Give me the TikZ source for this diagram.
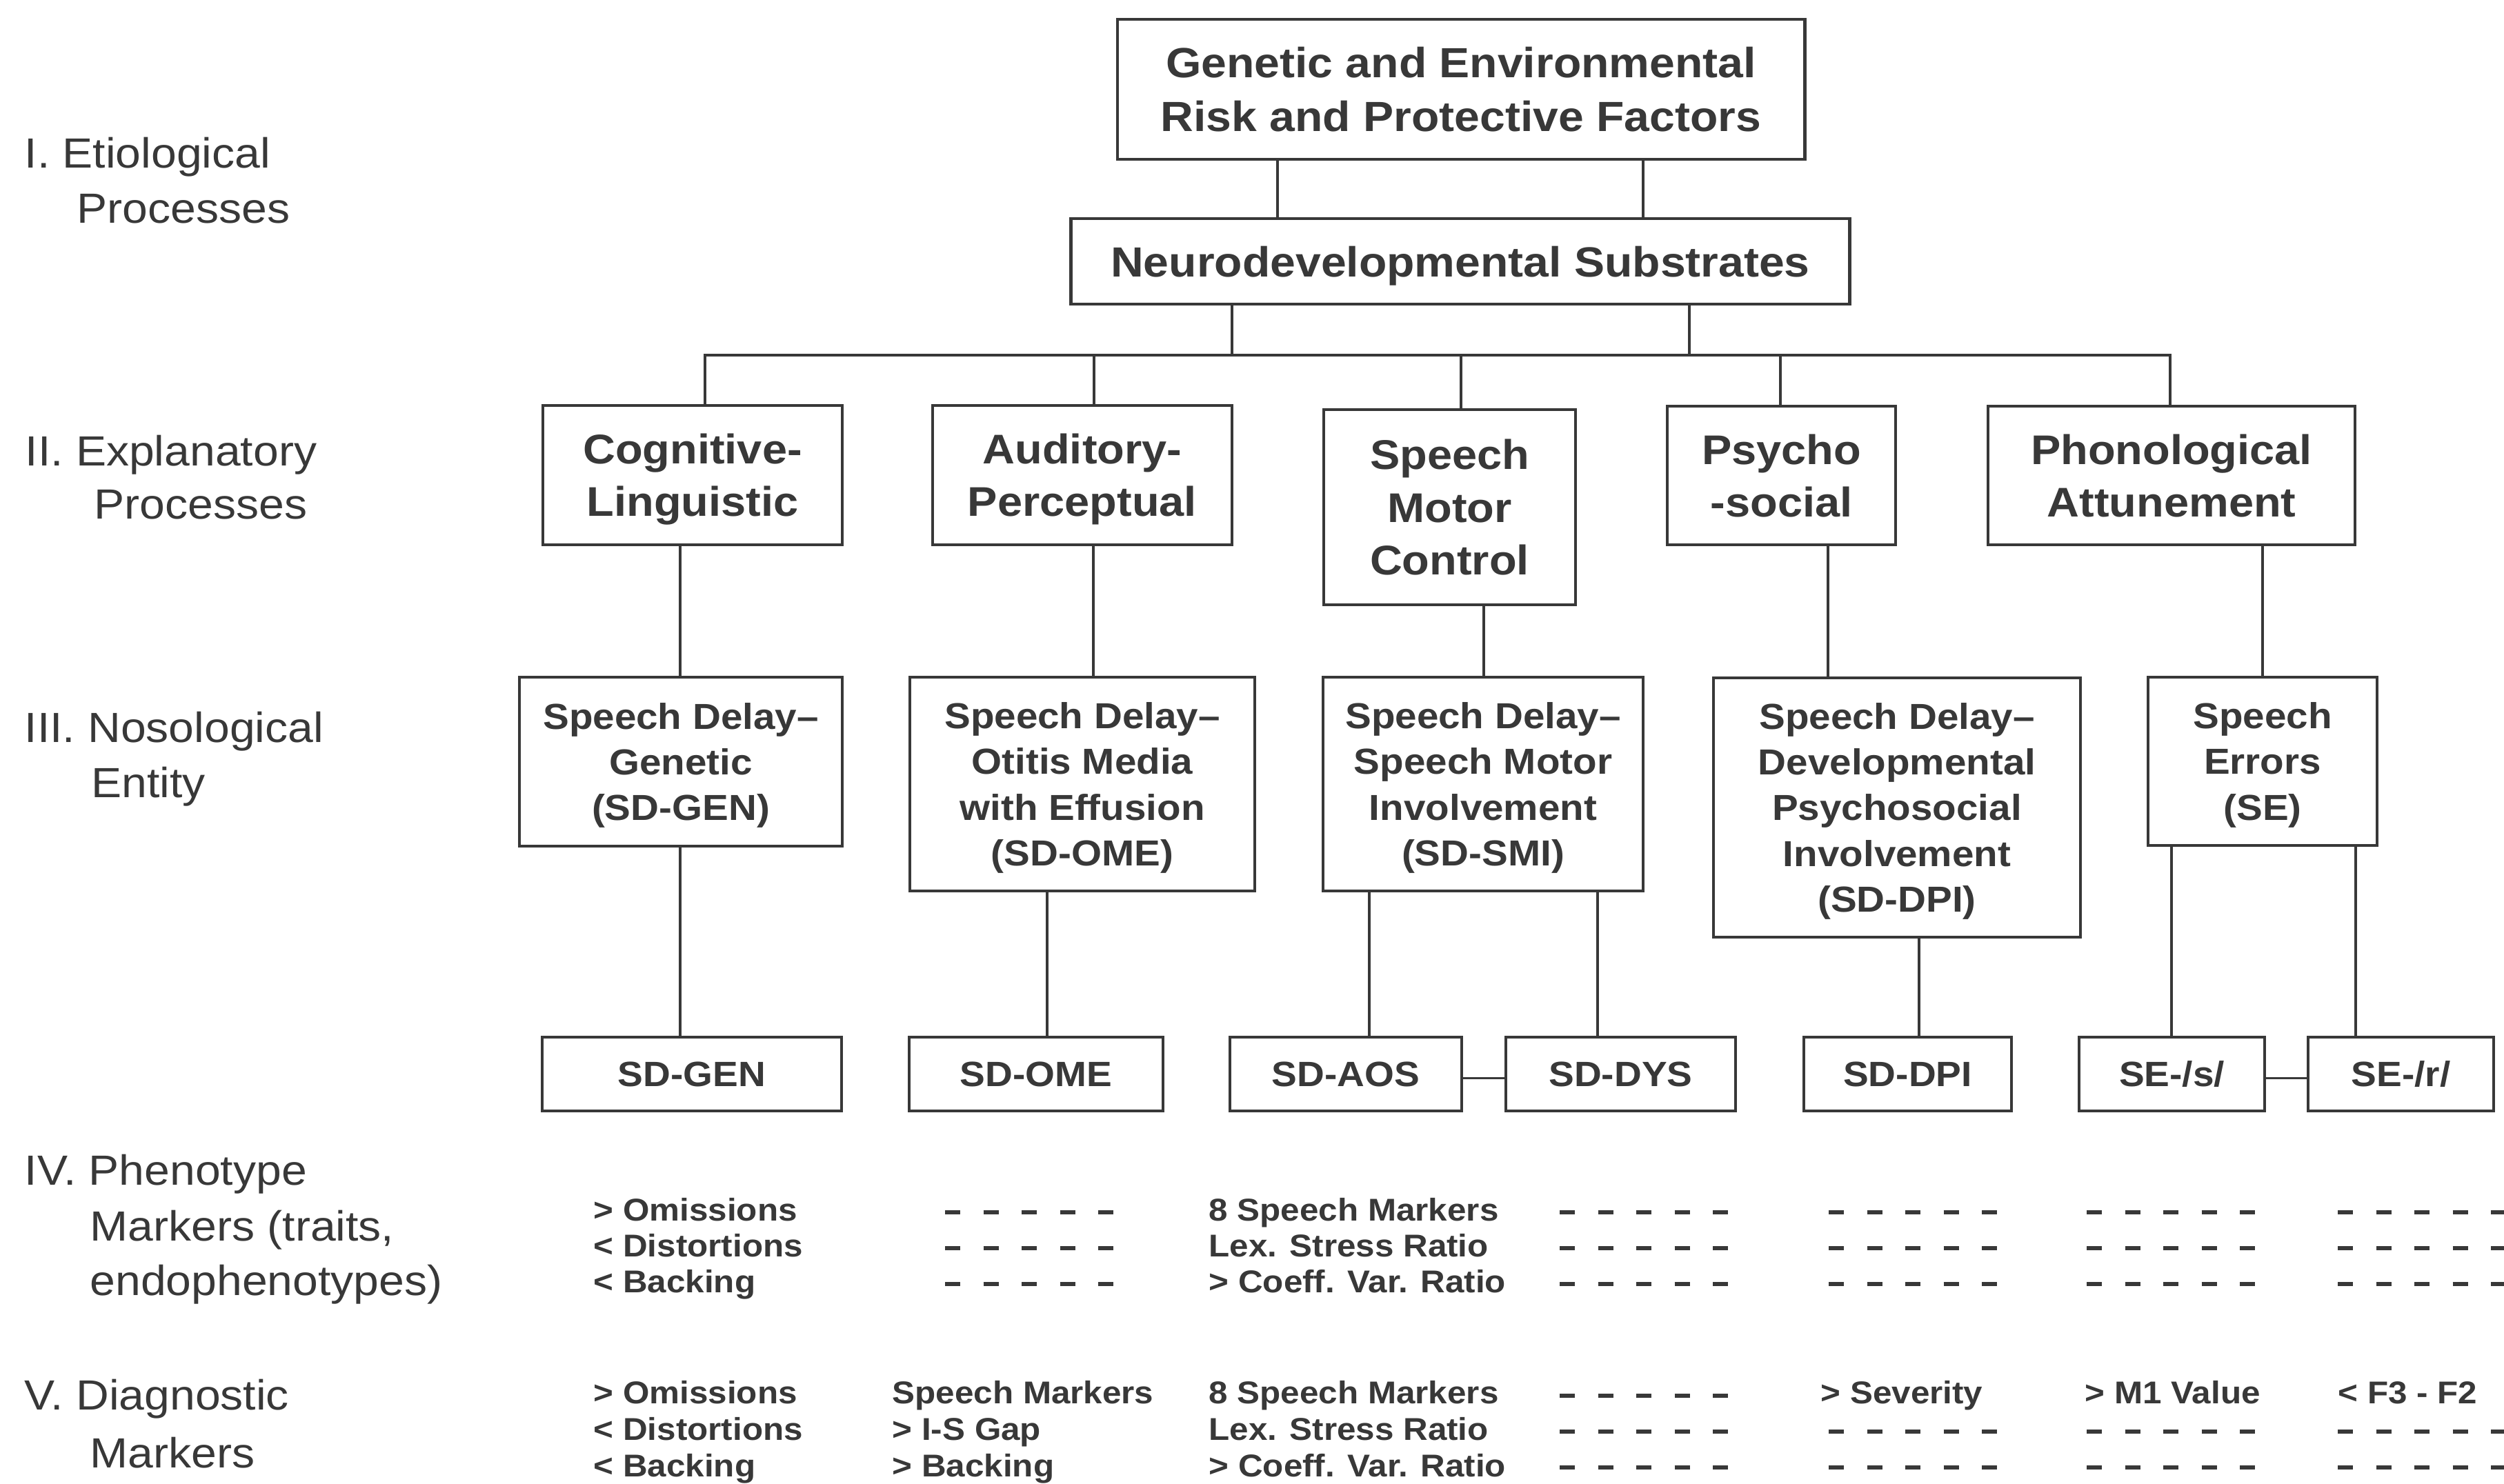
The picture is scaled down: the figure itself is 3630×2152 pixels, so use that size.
\documentclass[tikz,border=0pt]{standalone}
\usepackage{fontspec}
\setmainfont{Liberation Sans}[FakeStretch=1.08]
\definecolor{ink}{HTML}{383838}
\tikzset{
  box/.style={draw=ink, line width=1.25pt, inner sep=0pt, align=center, text=ink, text depth=0pt},
  conn/.style={draw=ink, line width=1pt},
  dashrow/.style={draw=ink, line width=0.055cm, dash pattern=on 0.22cm off 0.335cm},
  lab/.style={anchor=base west, inner sep=0pt, text=ink, font=\fontsize{17.4}{22}\selectfont},
  mk/.style={anchor=base west, inner sep=0pt, text=ink, font=\fontsize{13}{15}\selectfont\bfseries},
  fA/.style={font=\fontsize{17.4}{22.2}\selectfont\bfseries},
  fB/.style={font=\fontsize{17.1}{21.7}\selectfont\bfseries},
  fC/.style={font=\fontsize{14.9}{18.8}\selectfont\bfseries},
  fD/.style={font=\fontsize{14.5}{17}\selectfont\bfseries},
}
\begin{document}
\begin{tikzpicture}[x=0.01cm, y=-0.01cm]
\useasboundingbox[fill=white] (0,0) rectangle (3630,2152);

% ---- Level I
\node[box, fA, minimum width=9.96cm, minimum height=2.03cm] (top) at (2118,129.5) {Genetic and Environmental\\Risk and Protective Factors};
\node[box, fA, minimum width=11.28cm, minimum height=1.24cm] (neuro) at (2117,379) {Neurodevelopmental Substrates};

% ---- Level II
\node[box, fB, minimum width=4.34cm, minimum height=2.02cm] (cog) at (1004,689) {Cognitive-\\Linguistic};
\node[box, fB, minimum width=4.34cm, minimum height=2.02cm] (aud) at (1569,689) {Auditory-\\Perceptual};
\node[box, fB, minimum width=3.65cm, minimum height=2.83cm] (smc) at (2101.5,735.5) {Speech\\Motor\\Control};
\node[box, fB, minimum width=3.31cm, minimum height=2.01cm] (psy) at (2582.5,689.5) {Psycho\\-social};
\node[box, fB, minimum width=5.32cm, minimum height=2.01cm] (pho) at (3148,689.5) {Phonological\\Attunement};

% ---- Level III
\node[box, fC, minimum width=4.68cm, minimum height=2.45cm] (gen) at (987,1104.5) {Speech Delay–\\Genetic\\(SD-GEN)};
\node[box, fC, minimum width=5.00cm, minimum height=3.10cm] (ome) at (1569,1137) {Speech Delay–\\Otitis Media\\with Effusion\\(SD-OME)};
\node[box, fC, minimum width=4.64cm, minimum height=3.10cm] (smi) at (2150,1137) {Speech Delay–\\Speech Motor\\Involvement\\(SD-SMI)};
\node[box, fC, minimum width=5.32cm, minimum height=3.76cm] (dpi) at (2750,1171) {Speech Delay–\\Developmental\\Psychosocial\\Involvement\\(SD-DPI)};
\node[box, fC, minimum width=3.32cm, minimum height=2.44cm] (se) at (3280,1104) {Speech\\Errors\\(SE)};

% ---- subtype boxes
\node[box, fD, minimum width=4.34cm, minimum height=1.07cm] (bgen) at (1003,1557.5) {SD-GEN};
\node[box, fD, minimum width=3.68cm, minimum height=1.07cm] (bome) at (1502,1557.5) {SD-OME};
\node[box, fD, minimum width=3.36cm, minimum height=1.07cm] (aos) at (1951,1557.5) {SD-AOS};
\node[box, fD, minimum width=3.33cm, minimum height=1.07cm] (dys) at (2349.5,1557.5) {SD-DYS};
\node[box, fD, minimum width=3.01cm, minimum height=1.07cm] (bdpi) at (2765.5,1557.5) {SD-DPI};
\node[box, fD, minimum width=2.69cm, minimum height=1.07cm] (ses) at (3148.5,1557.5) {SE-/s/};
\node[box, fD, minimum width=2.69cm, minimum height=1.07cm] (ser) at (3480.5,1557.5) {SE-/r/};

% ---- connector x positions
\coordinate (k1) at (1852,0);
\coordinate (k2) at (2382,0);
\coordinate (n1) at (1786,515);
\coordinate (n2) at (2449,515);
\coordinate (b1) at (1022,515);
\coordinate (b2) at (1586,515);
\coordinate (b3) at (2118,515);
\coordinate (b4) at (2581,515);
\coordinate (b5) at (3146,515);
\coordinate (c1) at (986,0);
\coordinate (c2) at (1585,0);
\coordinate (c3) at (2151,0);
\coordinate (c4) at (2650,0);
\coordinate (c5) at (3280,0);
\coordinate (d2) at (1518,0);
\coordinate (d3a) at (1985,0);
\coordinate (d3b) at (2316,0);
\coordinate (d4) at (2782,0);
\coordinate (d5a) at (3148,0);
\coordinate (d5b) at (3415,0);

% ---- connectors
\draw[conn] (top.south -| k1) -- (neuro.north -| k1);
\draw[conn] (top.south -| k2) -- (neuro.north -| k2);
\draw[conn] (neuro.south -| n1) -- (n1);
\draw[conn] (neuro.south -| n2) -- (n2);
\draw[conn] (cog.north -| b1) -- (b1) -- (b5) -- (pho.north -| b5);
\draw[conn] (b2) -- (aud.north -| b2);
\draw[conn] (b3) -- (smc.north -| b3);
\draw[conn] (b4) -- (psy.north -| b4);

\draw[conn] (cog.south -| c1) -- (gen.north -| c1);
\draw[conn] (aud.south -| c2) -- (ome.north -| c2);
\draw[conn] (smc.south -| c3) -- (smi.north -| c3);
\draw[conn] (psy.south -| c4) -- (dpi.north -| c4);
\draw[conn] (pho.south -| c5) -- (se.north -| c5);

\draw[conn] (gen.south -| c1) -- (bgen.north -| c1);
\draw[conn] (ome.south -| d2) -- (bome.north -| d2);
\draw[conn] (smi.south -| d3a) -- (aos.north -| d3a);
\draw[conn] (smi.south -| d3b) -- (dys.north -| d3b);
\draw[conn] (dpi.south -| d4) -- (bdpi.north -| d4);
\draw[conn] (se.south -| d5a) -- (ses.north -| d5a);
\draw[conn] (se.south -| d5b) -- (ser.north -| d5b);
\draw[conn] ([yshift=-0.06cm]aos.east) -- ([yshift=-0.06cm]dys.west);
\draw[conn] ([yshift=-0.06cm]ses.east) -- ([yshift=-0.06cm]ser.west);

% ---- left labels
\node[lab] (l1a) at (35,244) {I. Etiological};
\node[lab] (l1b) at (111,324) {Processes};
\node[lab] (l2a) at (36,675) {II. Explanatory};
\node[lab] (l2b) at (136,752) {Processes};
\node[lab] (l3a) at (35,1076) {III. Nosological};
\node[lab] (l3b) at (132,1156) {Entity};
\node[lab] (l4a) at (35,1718) {IV. Phenotype};
\node[lab] (l4b) at (130,1799) {Markers (traits,};
\node[lab] (l4c) at (130,1878) {endophenotypes)};
\node[lab] (l5a) at (35,2044) {V. Diagnostic};
\node[lab] (l5b) at (130,2128) {Markers};

% ---- row IV markers
\node[mk] (p1a) at (860,1770) {> Omissions};
\node[mk] (p1b) at (860,1822) {< Distortions};
\node[mk] (p1c) at (860,1874) {< Backing};
\node[mk] (p3a) at (1752,1770) {8 Speech Markers};
\node[mk] (p3b) at (1752,1822) {Lex. Stress Ratio};
\node[mk] (p3c) at (1752,1874) {> Coeff. Var. Ratio};
\foreach \yy in {1758,1810,1862} {
  \draw[dashrow] (1370,\yy) -- ++(244,0);
  \draw[dashrow] (2261,\yy) -- ++(244,0);
  \draw[dashrow] (2651,\yy) -- ++(244,0);
  \draw[dashrow] (3025,\yy) -- ++(244,0);
  \draw[dashrow] (3389,\yy) -- ++(244,0);
}

% ---- row V markers
\node[mk] (q1a) at (860,2035) {> Omissions};
\node[mk] (q1b) at (860,2088) {< Distortions};
\node[mk] (q1c) at (860,2141) {< Backing};
\node[mk] (q2a) at (1293,2035) {Speech Markers};
\node[mk] (q2b) at (1293,2088) {> I-S Gap};
\node[mk] (q2c) at (1293,2141) {> Backing};
\node[mk] (q3a) at (1752,2035) {8 Speech Markers};
\node[mk] (q3b) at (1752,2088) {Lex. Stress Ratio};
\node[mk] (q3c) at (1752,2141) {> Coeff. Var. Ratio};
\node[mk] (q5a) at (2639,2035) {> Severity};
\node[mk] (q6a) at (3022,2035) {> M1 Value};
\node[mk] (q7a) at (3389,2035) {< F3 - F2};
\draw[dashrow] (2261,2024) -- ++(244,0);
\foreach \yy in {2076,2128} {
  \draw[dashrow] (2261,\yy) -- ++(244,0);
  \draw[dashrow] (2651,\yy) -- ++(244,0);
  \draw[dashrow] (3025,\yy) -- ++(244,0);
  \draw[dashrow] (3389,\yy) -- ++(244,0);
}
\end{tikzpicture}
\end{document}
